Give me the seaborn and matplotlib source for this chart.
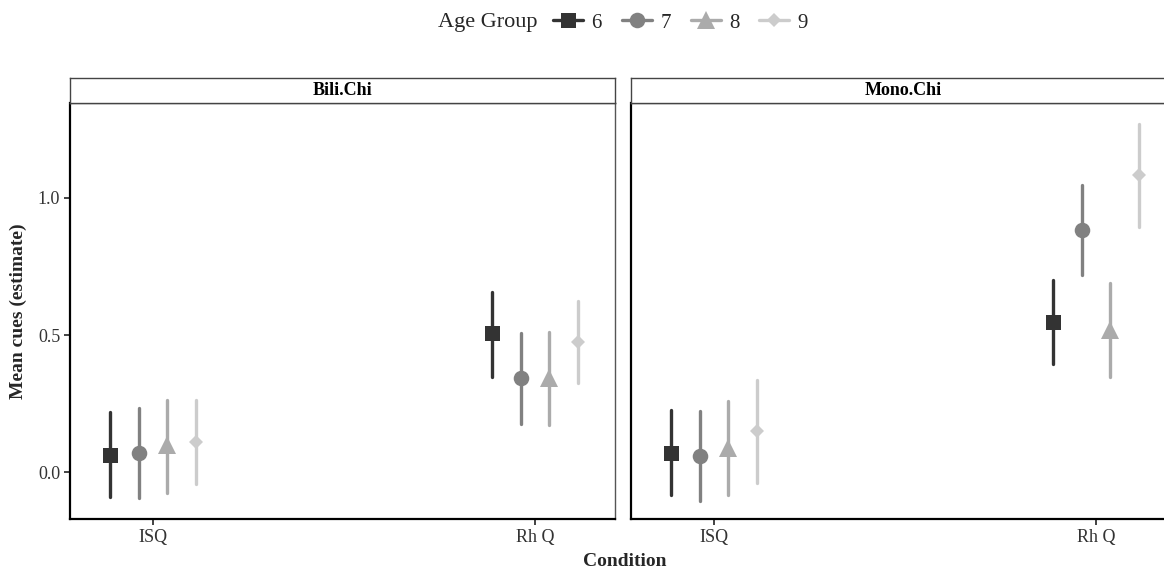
import numpy as np
import pandas as pd
import matplotlib
matplotlib.use("Agg")
import matplotlib.pyplot as plt
from matplotlib.lines import Line2D
import seaborn as sns

# ---- data -------------------------------------------------------------
panels = ["Bili.Chi", "Mono.Chi"]
conditions = ["ISQ", "Rh Q"]
age_groups = ["6", "7", "8", "9"]

# order within each list: ISQ ages 6-9, then Rh Q ages 6-9
bili_est = [0.062, 0.070, 0.100, 0.111, 0.506, 0.342, 0.342, 0.476]
bili_low = [-0.091, -0.096, -0.078, -0.044, 0.348, 0.175, 0.171, 0.324]
bili_high = [0.219, 0.232, 0.263, 0.263, 0.658, 0.506, 0.512, 0.625]

mono_est = [0.071, 0.058, 0.089, 0.150, 0.549, 0.883, 0.518, 1.084]
mono_low = [-0.084, -0.106, -0.084, -0.039, 0.393, 0.719, 0.348, 0.895]
mono_high = [0.226, 0.223, 0.259, 0.336, 0.701, 1.047, 0.691, 1.270]

grey_palette = ["#333333", "#818181", "#ABABAB", "#CCCCCC"]
marker_shapes = ["s", "o", "^", "D"]


def long_table(panel, est, low, high):
    rows = []
    for i, (e, lo, hi) in enumerate(zip(est, low, high)):
        cond = conditions[i // 4]
        age = age_groups[i % 4]
        # lower bound, estimate and upper bound as three values per cell:
        # median -> estimate, full percentile interval -> bounds
        for v in (lo, e, hi):
            rows.append({"Panel": panel, "Condition": cond,
                         "Age Group": age, "value": v})
    return pd.DataFrame(rows)


df = pd.concat([
    long_table("Bili.Chi", bili_est, bili_low, bili_high),
    long_table("Mono.Chi", mono_est, mono_low, mono_high),
], ignore_index=True)

# ---- figure -----------------------------------------------------------
sns.set_theme(style="white")
plt.rcParams["font.family"] = ["Liberation Serif", "DejaVu Serif"]

W, H = 1164, 569
fig = plt.figure(figsize=(W / 100, H / 100), dpi=100)


def fx(px):
    return px / W


def fy(py):
    return 1 - py / H


panel_left = [70, 631]
panel_w = 545
panel_top, panel_bottom = 103, 519
strip_top = 78

marker_pt = {"s": 10.8, "o": 11.2, "^": 12.5, "D": 7.0}
err_lw = 2.4

axes = []
for k, panel in enumerate(panels):
    ax = fig.add_axes([fx(panel_left[k]), fy(panel_bottom), fx(panel_w),
                       (panel_bottom - panel_top) / H])
    sub = df[df["Panel"] == panel]
    sns.pointplot(
        data=sub, x="Condition", y="value", hue="Age Group",
        order=conditions, hue_order=age_groups,
        estimator="median", errorbar=("pi", 100),
        palette=grey_palette, markers=marker_shapes, linestyles="none",
        dodge=0.225, err_kws={"linewidth": err_lw}, capsize=0,
        legend=False, ax=ax,
    )
    for ln in ax.lines:
        m = ln.get_marker()
        if m in marker_pt:
            ln.set_markersize(marker_pt[m])
            ln.set_markeredgewidth(0)
            ln.set_zorder(5)

    ax.set_xlim(-0.217, 1.209)
    ax.set_ylim(-0.1715, 1.3467)
    ax.set_yticks([0.0, 0.5, 1.0])
    ax.set_yticklabels(["0.0", "0.5", "1.0"])
    ax.set_xlabel("")
    ax.set_ylabel("")
    ax.tick_params(axis="both", direction="out", length=4, width=1.2,
                   color="#222222", labelsize=13, labelcolor="#333333",
                   bottom=True, left=True, pad=3)
    for side in ["left", "bottom"]:
        ax.spines[side].set_color("black")
        ax.spines[side].set_linewidth(1.6)
    for side in ["top", "right"]:
        ax.spines[side].set_color("#555555")
        ax.spines[side].set_linewidth(1.0)
    if k == 1:
        ax.tick_params(axis="y", left=False, labelleft=False)
    axes.append(ax)

    # facet strip
    sax = fig.add_axes([fx(panel_left[k]), fy(panel_top), fx(panel_w),
                        (panel_top - strip_top) / H])
    sax.set_xticks([])
    sax.set_yticks([])
    sax.set_facecolor("white")
    for side in sax.spines.values():
        side.set_color("#444444")
        side.set_linewidth(1.0)
    sax.text(0.5, 0.5, panel, transform=sax.transAxes, ha="center",
             va="center", fontsize=13, fontweight="bold", color="black")

# axis titles
fig.text(fx(18), fy((panel_top + panel_bottom) / 2), "Mean cues (estimate)",
         rotation=90, ha="center", va="center", fontsize=14,
         fontweight="bold")
fig.text(fx(625), fy(562), "Condition", ha="center", va="center",
         fontsize=14, fontweight="bold")

# legend across the top
fig.text(fx(438), fy(23), "Age Group", ha="left", va="center", fontsize=16)
handles = [
    Line2D([], [], color=c, marker=m, lw=err_lw, markeredgewidth=0,
           markersize=marker_pt[m])
    for c, m in zip(grey_palette, marker_shapes)
]
fig.legend(handles, age_groups, ncol=4, loc="center left",
           bbox_to_anchor=(fx(553), fy(23)), frameon=False, fontsize=15,
           handlelength=1.45, handletextpad=0.4, columnspacing=0.95,
           borderaxespad=0, borderpad=0)

fig.savefig("out.png", dpi=100)
